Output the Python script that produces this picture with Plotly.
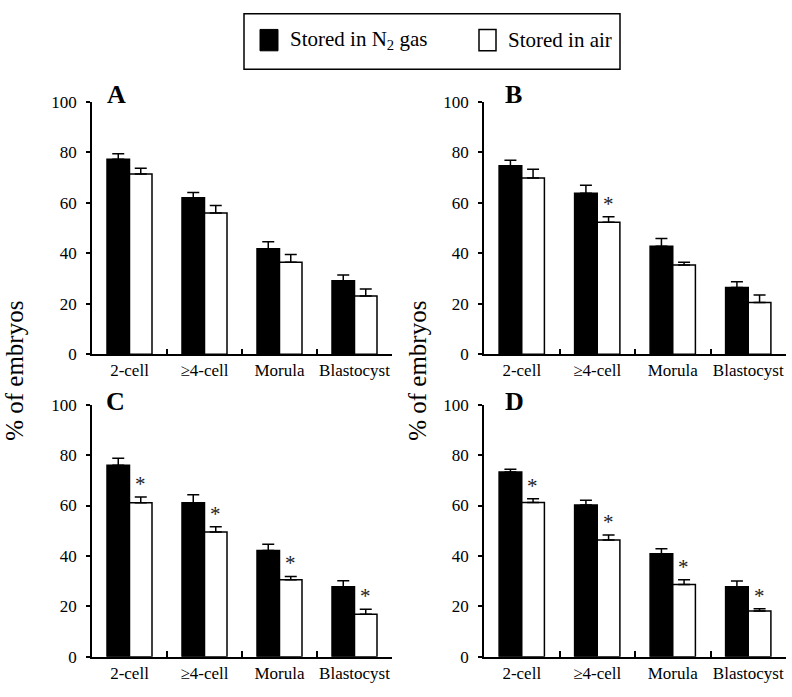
import plotly.graph_objects as go

W, H = 792, 697

categories = ["2-cell", "\u22654-cell", "Morula", "Blastocyst"]

A_n2 = [77.3, 62.0, 41.8, 29.1]
A_n2_err = [2.2, 2.1, 2.8, 2.3]
A_air = [71.4, 56.0, 36.5, 23.1]
A_air_err = [2.3, 3.0, 3.0, 2.8]
A_sig = [False, False, False, False]

B_n2 = [74.7, 63.8, 42.8, 26.5]
B_n2_err = [2.2, 3.2, 3.1, 2.3]
B_air = [69.9, 52.3, 35.4, 20.5]
B_air_err = [3.4, 2.2, 1.1, 3.0]
B_sig = [False, True, False, False]

C_n2 = [76.0, 61.1, 42.2, 27.8]
C_n2_err = [2.7, 3.2, 2.4, 2.4]
C_air = [61.1, 49.5, 30.6, 16.9]
C_air_err = [2.3, 2.1, 1.3, 2.0]
C_sig = [True, True, True, True]

D_n2 = [73.3, 60.2, 40.9, 27.8]
D_n2_err = [1.1, 1.9, 2.0, 2.3]
D_air = [61.2, 46.3, 28.7, 18.2]
D_air_err = [1.5, 2.0, 1.9, 0.9]
D_sig = [True, True, True, True]

panel_labels = ["A", "B", "C", "D"]
series_names = ["Stored in N<sub>2</sub> gas", "Stored in air"]
y_title = "% of embryos"

panels = [
    (A_n2, A_n2_err, A_air, A_air_err, A_sig),
    (B_n2, B_n2_err, B_air, B_air_err, B_sig),
    (C_n2, C_n2_err, C_air, C_air_err, C_sig),
    (D_n2, D_n2_err, D_air, D_air_err, D_sig),
]

FONT = "'Liberation Serif', 'Times New Roman', Times, serif"

def px_x(p):
    return p / W

def px_y(p):
    return 1 - p / H

# plot-area geometry (pixels)
x_doms = [(92, 392), (484, 786), (92, 392), (484, 786)]
y_doms = [(95.5, 355), (95.5, 355), (406.7, 666), (406.7, 666)]
letter_pos = [(105, 99), (503, 99), (104, 414), (503, 414)]

fig = go.Figure()
layout = dict(
    width=W, height=H,
    margin=dict(l=0, r=0, t=0, b=0),
    paper_bgcolor="white", plot_bgcolor="white",
    barmode="group", bargap=0.4, bargroupgap=0.0,
    showlegend=False,
    font=dict(family=FONT, color="black", size=17),
)
annotations = []
shapes = []

for i, (n2, n2e, air, aire, sig) in enumerate(panels):
    k = "" if i == 0 else str(i + 1)
    xa, ya = "x" + k, "y" + k
    fig.add_trace(go.Bar(
        x=categories, y=n2, xaxis=xa, yaxis=ya,
        marker=dict(color="black", line=dict(color="black", width=1.5)),
        error_y=dict(type="data", array=n2e, arrayminus=[0] * len(n2e),
                     symmetric=False, color="black", thickness=1.5, width=6),
        name="n2",
    ))
    fig.add_trace(go.Bar(
        x=categories, y=air, xaxis=xa, yaxis=ya,
        marker=dict(color="white", line=dict(color="black", width=1.5)),
        error_y=dict(type="data", array=aire, arrayminus=[0] * len(aire),
                     symmetric=False, color="black", thickness=1.5, width=6),
        name="air",
    ))
    x0, x1 = x_doms[i]
    y0, y1 = y_doms[i]
    layout["xaxis" + k] = dict(
        domain=[px_x(x0), px_x(x1)], anchor=ya,
        showline=True, linecolor="black", linewidth=1.5,
        ticks="inside", ticklen=6, tickwidth=1.5, tickcolor="black",
        tickson="boundaries", showgrid=False, zeroline=False,
        tickangle=0,
        tickfont=dict(family=FONT, size=17, color="black"),
        fixedrange=True,
    )
    layout["yaxis" + k] = dict(
        domain=[px_y(y1), px_y(y0)], anchor=xa,
        range=[0, 100], tickvals=[0, 20, 40, 60, 80, 100],
        showline=True, linecolor="black", linewidth=1.5,
        ticks="outside", ticklen=4, tickwidth=1.5, tickcolor="black",
        showgrid=False, zeroline=False,
        tickfont=dict(family=FONT, size=17, color="black"),
        ticklabelstandoff=6,
    )
    # significance asterisks
    for c, s, v, e in zip(categories, sig, air, aire):
        if s:
            annotations.append(dict(
                x=c, y=v + e, xref=xa, yref=ya, text="*", showarrow=False,
                xshift=11, yshift=-1, yanchor="bottom", xanchor="center",
                font=dict(family=FONT, size=21, color="#222222"),
            ))
    lx, ly = letter_pos[i]
    annotations.append(dict(
        x=px_x(lx), y=px_y(ly), xref="paper", yref="paper",
        text="<b>" + panel_labels[i] + "</b>", showarrow=False,
        xanchor="left", yanchor="bottom", yshift=-6,
        font=dict(family=FONT, size=26, color="black"),
    ))

# y-axis titles
for tx in (15, 418):
    annotations.append(dict(
        x=px_x(tx), y=px_y(372), xref="paper", yref="paper",
        text=y_title, showarrow=False, textangle=-90,
        xanchor="center", yanchor="middle",
        font=dict(family=FONT, size=25, color="black"),
    ))

# legend box
shapes.append(dict(type="rect", xref="paper", yref="paper",
                   x0=px_x(244), x1=px_x(620), y0=px_y(62), y1=px_y(5),
                   line=dict(color="black", width=1.5), fillcolor="white"))
shapes.append(dict(type="rect", xref="paper", yref="paper",
                   x0=px_x(260), x1=px_x(278), y0=px_y(43), y1=px_y(21),
                   line=dict(color="black", width=1), fillcolor="black"))
shapes.append(dict(type="rect", xref="paper", yref="paper",
                   x0=px_x(479), x1=px_x(496), y0=px_y(43), y1=px_y(21),
                   line=dict(color="black", width=1.5), fillcolor="white"))
for tx, txt in ((288, series_names[0]), (506, series_names[1])):
    annotations.append(dict(
        x=px_x(tx), y=px_y(32), xref="paper", yref="paper",
        text=txt, showarrow=False, xanchor="left", yanchor="middle",
        font=dict(family=FONT, size=21, color="black"),
    ))

layout["annotations"] = annotations
layout["shapes"] = shapes
fig.update_layout(**layout)
fig.write_html("out.html", config={"displayModeBar": False},
               post_script="document.body.style.margin='0';")
